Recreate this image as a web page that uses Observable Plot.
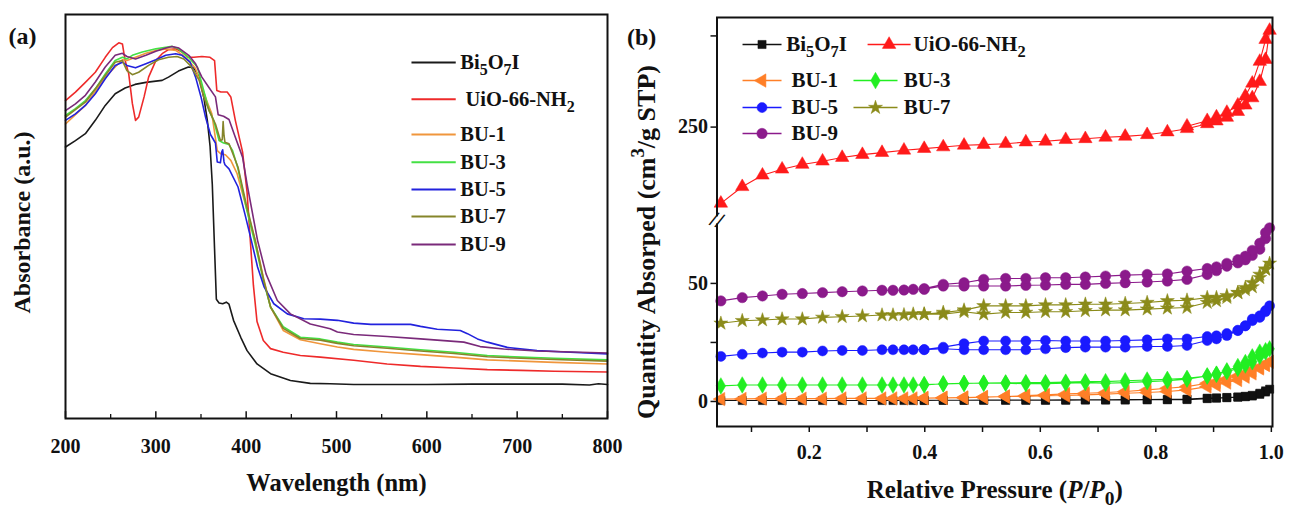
<!DOCTYPE html>
<html><head><meta charset="utf-8">
<script src="https://cdn.jsdelivr.net/npm/d3@7"></script>
<script src="https://cdn.jsdelivr.net/npm/@observablehq/plot@0.6"></script>
<style>
html,body{margin:0;padding:0;background:#fff;}
#wrap{position:relative;width:1290px;height:508px;overflow:hidden;background:#fff;}
.panel{position:absolute;top:0;}
</style></head><body>
<div id="wrap"><div id="pa" class="panel" style="left:0px"></div><div id="pb" class="panel" style="left:640px"></div></div>
<script>
// ---------- names ----------
const SERIES = ["Bi_{5}O_{7}I", "UiO-66-NH_{2}", "BU-1", "BU-3", "BU-5", "BU-7", "BU-9"];

// ---------- panel (a): UV-vis absorbance (arbitrary units, 0 = frame bottom, 1 = frame top) ----------
const BI_WL  = [200,211,222,233,244,255,266,277,289,300,307,314,325,336,342,348,353,357,360,362.5,365,367,370,374,378,381,386,394,401,412,427,449,471,493,519,560,600,650,700,750,780,790,800];
const BI_ABS = [0.672,0.688,0.705,0.738,0.775,0.804,0.818,0.827,0.832,0.835,0.837,0.845,0.86,0.87,0.868,0.845,0.796,0.738,0.675,0.58,0.42,0.295,0.286,0.284,0.288,0.283,0.243,0.201,0.168,0.135,0.111,0.094,0.087,0.086,0.084,0.084,0.084,0.085,0.085,0.085,0.083,0.086,0.084];
const UIO_WL  = [200,211,222,233,244,252,259,263,266,270,274,277.5,281,287,292,300,307,314,322,329,336,342,351,360,365,367.5,372,379,383,388,396,401,404,408,412,419,427,441,460,482,519,556,593,630,667,704,741,800];
const UIO_ABS = [0.787,0.808,0.832,0.857,0.894,0.918,0.930,0.927,0.886,0.853,0.780,0.738,0.746,0.796,0.845,0.886,0.903,0.913,0.915,0.907,0.894,0.894,0.896,0.894,0.886,0.812,0.808,0.808,0.796,0.738,0.66,0.56,0.46,0.33,0.24,0.193,0.173,0.164,0.156,0.152,0.144,0.135,0.129,0.125,0.121,0.119,0.117,0.115];
const BU1_WL  = [200,211,222,233,244,255,263,268,277.5,289,300,311,322,333,344,351,357,362,368,372,377,383,390,398,410,419,427,441,460,482,501,519,556,593,630,667,704,741,800];
const BU1_ABS = [0.729,0.752,0.775,0.81,0.845,0.870,0.888,0.886,0.894,0.904,0.911,0.915,0.911,0.894,0.866,0.82,0.783,0.754,0.663,0.655,0.653,0.639,0.606,0.54,0.441,0.35,0.276,0.218,0.195,0.185,0.177,0.171,0.164,0.158,0.152,0.145,0.142,0.139,0.135];
const BU3_WL  = [200,211,222,233,244,255,263,268,274,285,300,311,318,325,336,346,353,359,364,370,375,381,385,391,400,410,419,427,441,460,482,501,519,556,593,630,667,704,741,800];
const BU3_ABS = [0.75,0.767,0.787,0.816,0.853,0.886,0.894,0.890,0.899,0.907,0.915,0.919,0.921,0.915,0.894,0.870,0.812,0.762,0.738,0.688,0.682,0.678,0.663,0.618,0.523,0.432,0.342,0.276,0.227,0.201,0.197,0.189,0.183,0.177,0.170,0.164,0.156,0.152,0.149,0.145];
const BU5_WL  = [200,211,222,233,244,255,263,268,277.5,289,300,311,322,329,338,344,350,355,360.5,366,368,371.5,373,374,375.5,376.5,381,391,398.5,405.7,412.6,420,430.6,445.5,463.8,482,501,519,538,582,593,611.5,637,645,656,667,689,722,759,800];
const BU5_ABS = [0.738,0.754,0.775,0.804,0.841,0.874,0.882,0.874,0.868,0.878,0.888,0.899,0.903,0.899,0.882,0.845,0.796,0.746,0.703,0.682,0.635,0.633,0.66,0.665,0.635,0.628,0.618,0.573,0.507,0.441,0.375,0.325,0.284,0.259,0.247,0.246,0.243,0.236,0.233,0.233,0.228,0.221,0.218,0.21,0.197,0.189,0.176,0.168,0.164,0.160];
const BU7_WL  = [200,222,244,255,263,268,274,281,292,303,314,323.5,331,338,348,353,359,366,371.5,373.5,374.5,375.5,376.5,381,391,400,410,419,427,441,460,482,501,519,556,593,630,667,704,741,800];
const BU7_ABS = [0.746,0.783,0.849,0.882,0.886,0.861,0.851,0.857,0.874,0.888,0.894,0.896,0.89,0.874,0.837,0.796,0.762,0.729,0.688,0.69,0.735,0.70,0.684,0.68,0.622,0.531,0.441,0.346,0.276,0.223,0.198,0.194,0.186,0.180,0.174,0.167,0.161,0.153,0.149,0.146,0.142];
const BU9_WL  = [200,211,222,233,244,255,263,268,277.5,289,300,311,318,325.5,336.5,344,351,358.6,366,369,375,381,388,396,401,412.6,422,434.5,449,471,493,501,519,556,593,630,641,659,685,722,800];
const BU9_ABS = [0.762,0.779,0.8,0.833,0.870,0.899,0.904,0.896,0.890,0.899,0.909,0.917,0.921,0.917,0.899,0.878,0.845,0.82,0.796,0.752,0.748,0.74,0.696,0.647,0.58,0.441,0.358,0.292,0.259,0.234,0.222,0.214,0.208,0.203,0.197,0.191,0.189,0.178,0.172,0.167,0.162];
const X_TICKS_A = [200,300,400,500,600,700,800];
const X_MINOR_A = [250,350,450,550,650,750];

// ---------- panel (b): N2 isotherms (cm3/g STP) ----------
const P_ADS = [0.047,0.084,0.119,0.153,0.188,0.223,0.257,0.292,0.326,0.345,0.364,0.380,0.399,0.432,0.468,0.502,0.540,0.575,0.609,0.644,0.678,0.713,0.747,0.785,0.820,0.854,0.889,0.905,0.923,0.942,0.955,0.967,0.980,0.990,0.997];
const P_DES = [0.990,0.980,0.967,0.955,0.942,0.923,0.905,0.889,0.854,0.820,0.785,0.747,0.713,0.678,0.644,0.609,0.575,0.540,0.502,0.468,0.432,0.399];
const BI_ADS  = [0.4,0.4,0.4,0.4,0.4,0.4,0.4,0.4,0.4,0.4,0.4,0.4,0.4,0.5,0.5,0.5,0.5,0.5,0.5,0.5,0.6,0.6,0.6,0.7,0.7,0.8,1.2,1.4,1.6,1.8,2.0,2.3,3.0,4.0,5.2];
const BI_DES  = [4.5,3.5,2.6,2.2,1.9,1.7,1.5,1.4,1.0,0.9,0.8,0.8,0.7,0.7,0.7,0.6,0.6,0.6,0.6,0.5,0.5,0.5];
const UIO_ADS = [208.2,217.3,223.6,226.9,229.5,231.3,233.3,234.9,236.0,null,237.3,null,238.2,239.1,240.0,240.4,240.9,241.8,242.2,243.1,243.6,244.4,244.9,245.8,247.3,249.1,251.8,253.3,255.3,258.5,262.0,266.0,275.0,287.0,303.0];
const UIO_DES = [298,286,274,267,262,258,255.5,253.5,250.5,null,null,null,null,null,null,null,null,null,null,null,null,null];
const BU1_ADS = [1.0,1.1,1.2,1.2,1.2,1.2,1.3,1.3,1.3,1.3,1.3,1.3,1.4,1.5,1.6,1.8,2.1,2.1,2.4,2.5,2.8,3.1,3.5,3.8,4.2,4.9,6.3,7.0,8.0,9.1,10.5,11.9,14.0,15.5,16.8];
const BU1_DES = [15.5,14.5,13.3,12.0,10.8,9.5,8.4,7.7,6.3,5.6,4.9,4.2,3.8,3.5,3.2,2.8,2.5,2.1,1.9,1.7,1.6,1.5];
const BU3_ADS = [6.6,7.0,7.0,7.0,7.0,7.0,7.0,7.0,7.0,7.0,7.0,7.0,7.0,7.5,7.7,7.7,7.7,7.5,7.5,7.7,8.0,7.7,8.0,8.4,8.8,9.4,10.8,11.5,12.6,14.0,15.4,16.8,19.1,21.0,22.3];
const BU3_DES = [21.5,20.9,18.9,16.5,14.8,13.0,11.6,10.8,9.8,9.4,9.1,8.8,8.4,8.4,8.2,8.0,8.0,7.9,7.8,7.6,7.4,7.2];
const BU5_ADS = [19.1,20.0,20.5,20.9,20.9,21.4,21.6,21.6,21.9,21.9,21.9,21.9,21.9,22.3,21.9,21.9,21.9,21.9,22.3,22.8,23.0,23.0,23.0,23.3,23.3,23.7,25.8,26.5,27.9,30.0,32.1,34.2,36.3,38.5,40.5];
const BU5_DES = [38.0,35.6,34.9,32.0,30.2,28.8,27.8,27.5,26.5,26.5,26.1,25.8,25.6,25.6,25.6,25.8,25.6,25.6,25.6,24.5,23.0,22.0];
const BU7_ADS = [33.1,34.2,34.5,34.9,34.9,35.6,35.9,36.2,36.6,36.6,36.7,37.0,37.0,37.0,38.0,37.0,37.7,37.7,38.0,38.0,38.4,38.7,38.7,39.1,39.5,39.8,41.9,42.6,44.0,46.1,48.2,50.3,53.8,56.0,58.5];
const BU7_DES = [56.0,52.4,48.5,47.3,46.0,44.8,44.0,44.0,42.9,42.6,41.9,41.5,41.2,41.2,40.9,40.9,40.5,40.5,40.5,38.7,37.7,37.0];
const BU9_ADS = [42.6,44.0,44.7,45.4,45.7,46.1,46.5,46.8,47.1,47.1,47.2,47.5,47.5,48.9,48.9,48.9,48.9,49.2,49.3,49.6,49.6,50.0,50.3,50.6,51.0,51.7,53.8,55.4,57.3,58.7,60.0,61.9,64.5,69.0,73.5];
const BU9_DES = [71.5,67.0,64.0,61.5,60.0,58.5,57.0,56.3,55.2,54.0,53.8,53.5,53.1,52.7,52.4,52.4,52.1,52.1,51.7,50.3,49.6,47.8];
const X_TICKS_B = [0.1,0.2,0.3,0.4,0.5,0.6,0.7,0.8,0.9,1.0];
const Y_TICKS_B = [0,25,50,250,300];
const Y_LABELS_B = [0,50,250];

// ---------- broken y axis for panel (b): lower part [-10.6, 76.9], upper part [199.1, 310.1] ----------
const BREAK_LO = 76.9, BREAK_HI = 199.1, UPPER_RATIO = 0.7723;
const fold = v => v <= BREAK_LO ? v : BREAK_LO + (v - BREAK_HI) * UPPER_RATIO;

// ---------- styles ----------
const FONT = "'Liberation Serif','Times New Roman',serif";
const COLORS_A = ["#1a1a1a","#ee2a2a","#f0963c","#44e044","#2222dd","#85852a","#7a2a7a"];
const COLORS_B = ["#111111","#ff1a1a","#ff7f27","#22ee22","#1a1aff","#8b8b1a","#8b1a8b"];
const triLeft = {draw(ctx, size) {
  const a = Math.sqrt(4 * size / Math.sqrt(3)), h = Math.sqrt(3) / 2 * a;
  ctx.moveTo(-2 * h / 3, 0); ctx.lineTo(h / 3, -a / 2); ctx.lineTo(h / 3, a / 2); ctx.closePath();
}};
const SYMBOLS_B = ["square","triangle",triLeft,"diamond","circle","star","circle"];
const SIZES_B = [4.6, 5, 5, 5, 5, 4.4, 5.2];
const baseStyle = {fontFamily: FONT, fontWeight: "bold", fontSize: "20px", background: "transparent", color: "#111", overflow: "visible"};

// ---------- tables ----------
const WL_A = [BI_WL, UIO_WL, BU1_WL, BU3_WL, BU5_WL, BU7_WL, BU9_WL];
const AB_A = [BI_ABS, UIO_ABS, BU1_ABS, BU3_ABS, BU5_ABS, BU7_ABS, BU9_ABS];
const ADS_B = [BI_ADS, UIO_ADS, BU1_ADS, BU3_ADS, BU5_ADS, BU7_ADS, BU9_ADS];
const DES_B = [BI_DES, UIO_DES, BU1_DES, BU3_DES, BU5_DES, BU7_DES, BU9_DES];
const specA = SERIES.map((name, i) => WL_A[i].map((wl, j) => ({wl, ab: AB_A[i][j]})));
const specB = SERIES.map((name, i) => [
  ...P_ADS.map((p, j) => ({p, v: ADS_B[i][j]})),
  ...P_DES.map((p, j) => ({p, v: DES_B[i][j]}))
].filter(d => d.v != null));

// ---------- rich text (sub/superscripts, italics) ----------
function richify(root) {
  root.querySelectorAll("text").forEach(t => {
    const s = t.textContent;
    if (!/(_\{|\^\{|\*)/.test(s)) return;
    const fs = parseFloat(getComputedStyle(t).fontSize) || 20;
    while (t.firstChild) t.removeChild(t.firstChild);
    const tokens = s.split(/(_\{[^}]*\}|\^\{[^}]*\}|\*[^*]*\*)/).filter(x => x);
    let cur = 0;
    for (const tok of tokens) {
      const ts = document.createElementNS("http://www.w3.org/2000/svg", "tspan");
      let shift = 0, txt = tok, size = null, italic = false;
      if (tok.startsWith("_{")) { shift = 0.28 * fs; txt = tok.slice(2, -1); size = 0.78 * fs; }
      else if (tok.startsWith("^{")) { shift = -0.42 * fs; txt = tok.slice(2, -1); size = 0.72 * fs; }
      else if (tok.startsWith("*")) { txt = tok.slice(1, -1); italic = true; }
      const dy = shift - cur;
      if (dy) ts.setAttribute("dy", dy);
      cur = shift;
      if (size) ts.setAttribute("font-size", size);
      if (italic) ts.setAttribute("font-style", "italic");
      ts.textContent = txt;
      t.appendChild(ts);
    }
  });
}

// ---------- panel (a) ----------
const legA = SERIES.map((name, i) => ({i, name: (i === 1 ? "\u00A0" : "") + name, y: [0.881,0.790,0.703,0.634,0.567,0.500,0.431][i]}));
const plotA = Plot.plot({
  width: 640, height: 508,
  marginLeft: 65, marginRight: 33, marginTop: 14, marginBottom: 90,
  x: {domain: [200, 800], axis: null},
  y: {domain: [0, 1], axis: null},
  style: baseStyle,
  marks: [
    Plot.ruleX(X_TICKS_A, {x: d => d, y1: 0, y2: 0.017, stroke: "#111", strokeWidth: 1.5}),
    Plot.ruleX(X_MINOR_A, {x: d => d, y1: 0, y2: 0.010, stroke: "#111", strokeWidth: 1.3}),
    ...specA.map((rows, i) => Plot.line(rows, {x: "wl", y: "ab", stroke: COLORS_A[i], strokeWidth: 1.6})),
    ...legA.map(d => Plot.link([d], {x1: 583, x2: 632, y1: "y", y2: "y", stroke: COLORS_A[d.i], strokeWidth: 2})),
    Plot.text(legA, {x: 637, y: "y", text: "name", textAnchor: "start", lineAnchor: "middle", fontSize: 20.5}),
    Plot.text(X_TICKS_A, {x: d => d, frameAnchor: "bottom", lineAnchor: "middle", dy: 28, fontSize: 20}),
    Plot.frame({stroke: "#111", strokeWidth: 2}),
    Plot.text(["(a)"], {frameAnchor: "top-left", dx: -57, dy: 22, textAnchor: "start", lineAnchor: "middle", fontSize: 24}),
    Plot.text(["Absorbance (a.u.)"], {frameAnchor: "left", dx: -43, dy: 6, rotate: -90, textAnchor: "middle", lineAnchor: "middle", fontSize: 24}),
    Plot.text(["Wavelength (nm)"], {frameAnchor: "bottom", dy: 65, textAnchor: "middle", lineAnchor: "middle", fontSize: 24.5})
  ]
});
document.getElementById("pa").appendChild(plotA);
richify(plotA);

// ---------- panel (b) ----------
const X_MIN_B = 0.0403;
const legB = [
  {i: 0, x1: 0.0845, x2: 0.152, tx: 0.160, y: 295.3},
  {i: 1, x1: 0.301, x2: 0.3755, tx: 0.3806, y: 295.3},
  {i: 2, x1: 0.0845, x2: 0.152, tx: 0.160, y: 275.5},
  {i: 3, x1: 0.2766, x2: 0.3528, tx: 0.3545, y: 275.5},
  {i: 4, x1: 0.0845, x2: 0.152, tx: 0.160, y: 260.7},
  {i: 5, x1: 0.2766, x2: 0.3528, tx: 0.3545, y: 260.7},
  {i: 6, x1: 0.0845, x2: 0.152, tx: 0.160, y: 246.5}
].map(d => ({...d, name: (d.i >= 2 ? "\u00A0" : "") + SERIES[d.i]}));

const plotB = Plot.plot({
  width: 650, height: 508,
  marginLeft: 76.5, marginRight: 18, marginTop: 17, marginBottom: 82,
  x: {domain: [X_MIN_B, 1.002], axis: null},
  y: {domain: [fold(-10.6), fold(310.1)], axis: null},
  style: baseStyle,
  marks: [
    Plot.axisX({ticks: X_TICKS_B, tickSize: 6, tickPadding: 12, label: null, fontSize: 20, fontWeight: "bold",
      tickFormat: d => (Math.round(d * 10) % 2 === 0) ? d.toFixed(1) : "", strokeWidth: 1.5}),
    Plot.axisY({ticks: Y_TICKS_B.map(fold), tickSize: 6, tickPadding: 3, label: null, fontSize: 20, fontWeight: "bold",
      tickFormat: (d, i) => Y_LABELS_B.includes(Y_TICKS_B[i]) ? String(Y_TICKS_B[i]) : "", strokeWidth: 1.5}),
    ...specB.map((rows, i) => Plot.line(rows, {x: "p", y: d => fold(d.v), stroke: COLORS_B[i], strokeWidth: 1.1})),
    ...specB.map((rows, i) => Plot.dot(rows, {x: "p", y: d => fold(d.v), symbol: SYMBOLS_B[i], r: SIZES_B[i], fill: COLORS_B[i], stroke: COLORS_B[i], strokeWidth: 0.5})),
    Plot.frame({stroke: "#111", strokeWidth: 2}),
    Plot.dot([BREAK_LO], {x: () => X_MIN_B, y: d => d, symbol: "square", r: 4, fill: "white", stroke: "none"}),
    Plot.text(["//"], {x: () => X_MIN_B, y: () => BREAK_LO, fontSize: 22, rotate: 20, textAnchor: "middle", lineAnchor: "middle"}),
    ...legB.map(d => Plot.link([d], {x1: "x1", x2: "x2", y1: e => fold(e.y), y2: e => fold(e.y), stroke: COLORS_B[d.i], strokeWidth: 1.5})),
    ...legB.map(d => Plot.dot([d], {x: e => (e.x1 + e.x2) / 2, y: e => fold(e.y), symbol: SYMBOLS_B[d.i], r: SIZES_B[d.i], fill: COLORS_B[d.i], stroke: COLORS_B[d.i], strokeWidth: 0.5})),
    Plot.text(legB, {x: "tx", y: e => fold(e.y), text: "name", textAnchor: "start", lineAnchor: "middle", fontSize: 21}),
    Plot.text(["(b)"], {frameAnchor: "top-left", dx: -90, dy: 20, textAnchor: "start", lineAnchor: "middle", fontSize: 24}),
    Plot.text(["Quantity Absorped (cm^{3}/g STP)"], {frameAnchor: "left", dx: -70, dy: 20, rotate: -90, textAnchor: "middle", lineAnchor: "middle", fontSize: 26}),
    Plot.text(["Relative Pressure (*P*/*P*_{0})"], {frameAnchor: "bottom", dy: 63, textAnchor: "middle", lineAnchor: "middle", fontSize: 25})
  ]
});
document.getElementById("pb").appendChild(plotB);
richify(plotB);
</script></body></html>
